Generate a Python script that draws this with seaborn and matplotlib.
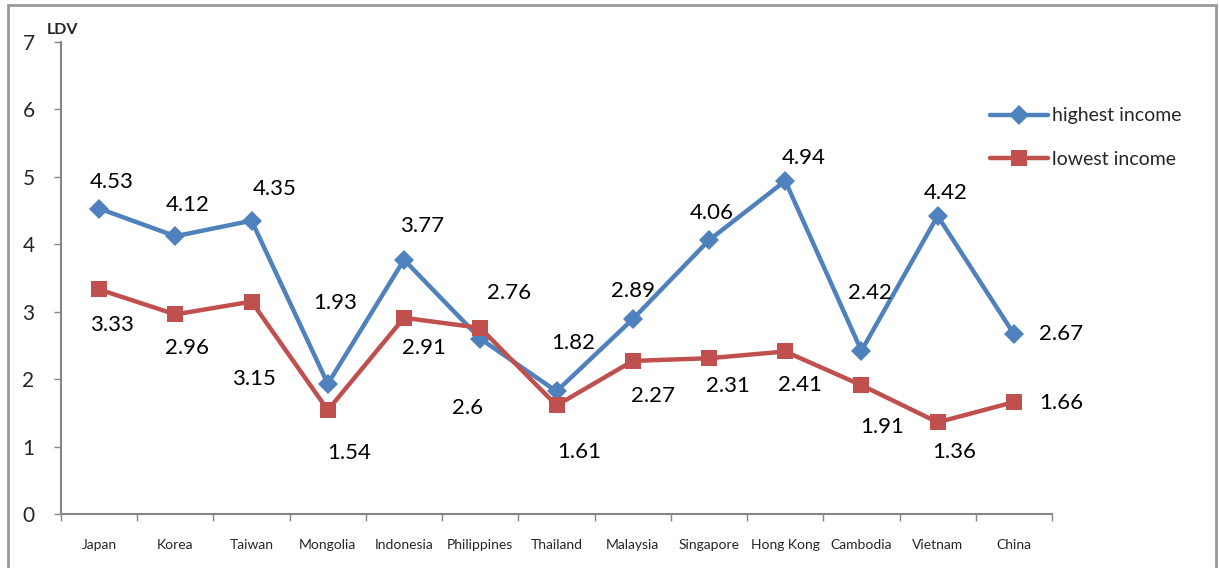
import matplotlib
matplotlib.use("Agg")
import matplotlib.pyplot as plt
import seaborn as sns
import pandas as pd
from matplotlib.patches import Rectangle
from matplotlib.ticker import FixedLocator, NullFormatter

countries = ["Japan", "Korea", "Taiwan", "Mongolia", "Indonesia", "Philippines", "Thailand",
             "Malaysia", "Singapore", "Hong Kong", "Cambodia", "Vietnam", "China"]
highest_income = [4.53, 4.12, 4.35, 1.93, 3.77, 2.6, 1.82, 2.89, 4.06, 4.94, 2.42, 4.42, 2.67]
lowest_income = [3.33, 2.96, 3.15, 1.54, 2.91, 2.76, 1.61, 2.27, 2.31, 2.41, 1.91, 1.36, 1.66]
y_ticks = [0, 1, 2, 3, 4, 5, 6, 7]

# label offsets (pixels) from each point
high_dx = [13, 12, 23, 7, 18, -13, 17, 0, 3, 19, 9, 8, 47]
high_dy = [27, 31, 32, 81, 34, -69, 48, 28, 27, 23, 58, 23, 0]
low_dx = [13, 12, 2, 21, 20, 29, 23, 20, 19, 15, 21, 17, 47]
low_dy = [-36, -34, -77, -43, -30, 35, -47, -35, -28, -34, -42, -30, -1]

BLUE = "#4F81BD"
RED = "#C0504D"
GREY = "#868686"

sns.set_theme(style="white")
plt.rcParams["font.family"] = ["Lato", "DejaVu Sans"]

fig = plt.figure(figsize=(12.19, 5.68), dpi=100)
ax = fig.add_axes([61 / 1219, 1 - 514 / 568, (1052 - 61) / 1219, (514 - 42) / 568])

df = pd.DataFrame({"country": countries, "high": highest_income, "low": lowest_income})
sns.lineplot(data=df, x="country", y="high", ax=ax, color=BLUE, lw=3.2, marker="D",
             markersize=10, markeredgewidth=0, label="highest income", sort=False)
sns.lineplot(data=df, x="country", y="low", ax=ax, color=RED, lw=3.2, marker="s",
             markersize=11, markeredgewidth=0, label="lowest income", sort=False)

for i in range(len(countries)):
    ax.annotate(f"{highest_income[i]:g}", (i, highest_income[i]), xytext=(high_dx[i], high_dy[i]),
                textcoords="offset pixels", ha="center", va="center", fontsize=16, color="black")
    ax.annotate(f"{lowest_income[i]:g}", (i, lowest_income[i]), xytext=(low_dx[i], low_dy[i]),
                textcoords="offset pixels", ha="center", va="center", fontsize=16, color="black")

ax.set_xlim(-0.5, len(countries) - 0.5)
ax.set_ylim(0, 7)
ax.set_yticks(y_ticks)
ax.set_yticklabels([str(t) for t in y_ticks], fontsize=15)

# category labels centred, tick marks between categories
ax.xaxis.set_major_locator(FixedLocator([i - 0.5 for i in range(len(countries) + 1)]))
ax.xaxis.set_major_formatter(NullFormatter())
ax.xaxis.set_minor_locator(FixedLocator(list(range(len(countries)))))
ax.set_xticklabels(countries, minor=True, fontsize=10)
ax.tick_params(axis="x", which="major", direction="out", length=5, width=1, color=GREY, bottom=True)
ax.tick_params(axis="x", which="minor", length=0, pad=18, bottom=True)
ax.tick_params(axis="y", direction="out", length=5, width=1, color=GREY, left=True, pad=14)
ax.set_xlabel("")
ax.set_ylabel("")

for s in ["top", "right"]:
    ax.spines[s].set_visible(False)
for s in ["left", "bottom"]:
    ax.spines[s].set_color(GREY)
    ax.spines[s].set_linewidth(1.5)

fig.text(62 / 1219, 1 - 30 / 568, "LDV", fontsize=11.5, fontweight="bold", ha="center", va="center")

ax.legend(loc="upper left", bbox_to_anchor=(972 / 1219, 1 - 90 / 568), bbox_transform=fig.transFigure,
          frameon=False, fontsize=14, handlelength=3.0, handletextpad=0.2, labelspacing=1.35, numpoints=1)

fig.patches.append(Rectangle((8 / 1219, -0.05), (1216 - 8) / 1219, 1.05 - 5 / 568, transform=fig.transFigure,
                             fill=False, edgecolor="#9a9a9a", lw=2, zorder=0))

fig.savefig("out.png", dpi=100)
